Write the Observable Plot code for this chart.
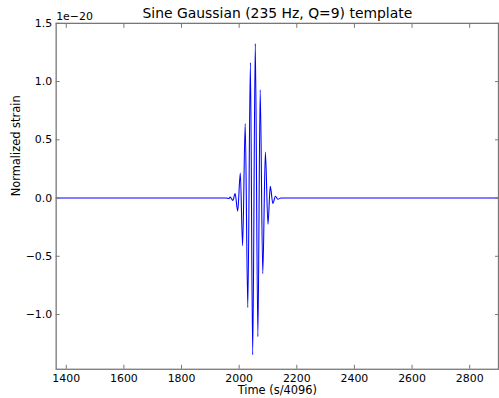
<!DOCTYPE html>
<html>
<head>
<meta charset="utf-8">
<script src="https://cdn.jsdelivr.net/npm/d3@7"></script>
<script src="https://cdn.jsdelivr.net/npm/@observablehq/plot@0.6"></script>
<style>
  html, body { margin: 0; padding: 0; overflow: hidden; background: white; }
</style>
</head>
<body>
<div id="chart"></div>
<script>
// Sample index (s/4096) and normalized strain (units of 1e-20)
const sampleTime = [1365, 1955, 1964, 1969, 1978, 1986, 1995, 2004, 2012, 2021, 2030, 2039, 2047, 2056, 2065, 2073, 2082, 2091, 2100, 2108, 2117, 2126, 2134, 2145, 2900];
const strainValue = [0, 0, -0.004, 0.008, -0.02, 0.038, -0.112, 0.215, -0.41, 0.64, -0.94, 1.164, -1.346, 1.326, -1.19, 0.929, -0.65, 0.396, -0.225, 0.10, -0.047, 0.015, -0.01, 0, 0];

const xTicks = [1400, 1600, 1800, 2000, 2200, 2400, 2600, 2800];
const yTicks = [-1.0, -0.5, 0.0, 0.5, 1.0, 1.5];

const titleText = "Sine Gaussian (235 Hz, Q=9) template";
const xLabel = "Time (s/4096)";
const yLabel = "Normalized strain";
const exponentLabel = "1e\u221220";

const data = sampleTime.map((t, i) => ({t, v: strainValue[i]}));
const spine = "#777";
const fmt = d3.format(".1f");

const chart = Plot.plot({
  width: 502,
  height: 398,
  marginLeft: 56,
  marginRight: 1,
  marginTop: 23,
  marginBottom: 27,
  style: {fontFamily: "DejaVu Sans", fontSize: "11px", color: "black", background: "white"},
  x: {domain: [1365, 2900]},
  y: {domain: [-1.47, 1.5]},
  marks: [
    Plot.line(data, {x: "t", y: "v", stroke: "#0000ff", strokeWidth: 1.1, curve: "monotone-x", clip: true}),
    Plot.frame({stroke: spine, strokeWidth: 1.3}),
    // inward tick marks on all four sides
    Plot.axisX({anchor: "bottom", ticks: xTicks, tickSize: -4, text: null, stroke: spine, label: null}),
    Plot.axisX({anchor: "top", ticks: xTicks, tickSize: -4, text: null, stroke: spine, label: null}),
    Plot.axisY({anchor: "left", ticks: yTicks, tickSize: -4, text: null, stroke: spine, label: null}),
    Plot.axisY({anchor: "right", ticks: yTicks, tickSize: -4, text: null, stroke: spine, label: null}),
    // tick labels
    Plot.axisX({anchor: "bottom", ticks: xTicks, tickSize: 0, tickPadding: 5, tickFormat: d => String(d), label: null, fontSize: 11}),
    Plot.axisY({anchor: "left", ticks: yTicks, tickSize: 0, tickPadding: 4, tickFormat: fmt, label: null, fontSize: 11}),
    // labels
    Plot.text([titleText], {frameAnchor: "top", dy: -9.5, lineAnchor: "middle", fontSize: 14, fill: "black"}),
    Plot.text([exponentLabel], {frameAnchor: "top-left", dy: -6.5, lineAnchor: "middle", textAnchor: "start", fontSize: 11, fill: "black"}),
    Plot.text([xLabel], {frameAnchor: "bottom", dy: 17, lineAnchor: "top", fontSize: 11.5, fill: "black"}),
    Plot.text([yLabel], {frameAnchor: "left", dx: -40, rotate: -90, lineAnchor: "middle", fontSize: 11.5, fill: "black"})
  ]
});
document.getElementById("chart").appendChild(chart);
</script>
</body>
</html>
